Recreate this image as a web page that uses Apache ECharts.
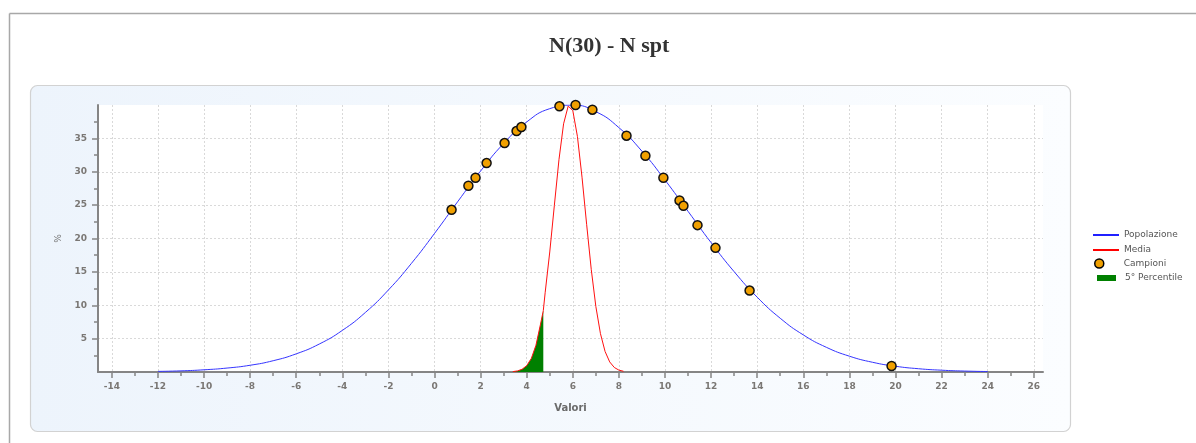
<!DOCTYPE html>
<html><head><meta charset="utf-8">
<script src="https://cdn.jsdelivr.net/npm/echarts@6/dist/echarts.min.js"></script>
<style>html,body{margin:0;padding:0;background:#fff}#c{width:1196px;height:443px}</style>
</head><body><div id="c"></div>
<script>
// ---- data ----
const xTickValues = [-14,-12,-10,-8,-6,-4,-2,0,2,4,6,8,10,12,14,16,18,20,22,24,26];
const xMinorTicks = [-13,-11,-9,-7,-5,-3,-1,1,3,5,7,9,11,13,15,17,19,21,23,25];
const yTickValues = [5,10,15,20,25,30,35];
const yMinorTicks = [2.5,7.5,12.5,17.5,22.5,27.5,32.5,37.5];

const popX = [-12,-11,-10,-9,-8,-7,-6,-5,-4,-3,-2,-1,0,1,2,3,4,5,6,7,8,9,10,11,12,13,14,15,16,17,18,19,20,21,22,23,24];
const popY = [0.09,0.17,0.33,0.59,1.01,1.69,2.72,4.19,6.23,8.92,12.29,16.28,20.76,25.49,30.11,34.24,37.46,39.45,39.98,39.0,36.61,33.08,28.76,24.07,19.38,15.03,11.21,8.05,5.56,3.70,2.37,1.46,0.86,0.49,0.27,0.14,0.07];

const mediaX = [3.4,3.6,3.8,4.0,4.2,4.4,4.6,4.72,4.8,5.0,5.2,5.4,5.6,5.8,6.0,6.2,6.4,6.6,6.8,7.0,7.2,7.4,7.6,7.8,8.0,8.2];
const mediaY = [0.06,0.16,0.41,0.95,2.03,3.99,7.18,9.2,11.87,17.98,24.98,31.82,37.18,39.84,39.16,35.30,29.18,22.13,15.38,9.81,5.74,3.08,1.51,0.68,0.28,0.11];

const pctX = [3.4,3.6,3.8,4.0,4.2,4.4,4.6,4.72];
const pctY = [0.06,0.16,0.41,0.95,2.03,3.99,7.18,9.2];

const campX = [0.74,1.47,1.78,2.26,3.04,3.56,3.77,5.42,6.12,6.85,8.33,9.15,9.93,10.63,10.8,11.41,12.19,13.67,19.83];
const campY = [24.3,27.9,29.1,31.3,34.3,36.1,36.7,39.8,40.0,39.3,35.4,32.4,29.1,25.7,24.9,22.0,18.6,12.2,0.9];

const pairs = (xs, ys) => xs.map((x, i) => [x, ys[i]]);

const labelFont = {fontFamily: 'DejaVu Sans', fontSize: 9, fontWeight: 'bold', color: '#7a7774'};
const legendText = {fontFamily: 'DejaVu Sans', fontSize: 9, color: '#555', lineHeight: 12};

const chart = echarts.init(document.getElementById('c'), null, {renderer: 'canvas'});
chart.setOption({
  animation: false,
  backgroundColor: '#fff',
  title: {
    text: 'N(30) - N spt', left: 549, top: 35, padding: 0,
    textStyle: {fontFamily: 'Liberation Serif', fontSize: 22, fontWeight: 'bold', color: '#333'}
  },
  graphic: {elements: [
    {type: 'line', z: -100, shape: {x1: 9.5, y1: 13.5, x2: 1196, y2: 13.5}, style: {stroke: '#a8a8a8', lineWidth: 1.5}},
    {type: 'line', z: -100, shape: {x1: 9.5, y1: 13.5, x2: 9.5, y2: 443}, style: {stroke: '#a8a8a8', lineWidth: 1.5}},
    {type: 'rect', z: -99, shape: {x: 30.5, y: 85.5, width: 1040, height: 346, r: 7},
      style: {stroke: '#d2d2d2', lineWidth: 1.2,
        fill: new echarts.graphic.LinearGradient(0, 0, 1, 0, [{offset: 0, color: '#edf4fc'}, {offset: 1, color: '#fbfdff'}])}}
  ]},
  legend: [
    {data: [{name: 'Popolazione', icon: 'rect'}], left: 1093, top: 229, padding: 0, itemWidth: 26, itemHeight: 2, textStyle: legendText, selectedMode: false},
    {data: [{name: 'Media', icon: 'rect'}], left: 1093, top: 244, padding: 0, itemWidth: 26, itemHeight: 2, textStyle: legendText, selectedMode: false},
    {data: [{name: 'Campioni', icon: 'circle'}], left: 1094, top: 257.5, padding: 0, itemWidth: 9, itemHeight: 9,
      itemStyle: {color: '#f0a000', borderColor: '#000', borderWidth: 1.5},
      textStyle: Object.assign({}, legendText, {padding: [0, 0, 0, 15]}), selectedMode: false},
    {data: [{name: '5° Percentile', icon: 'rect'}], left: 1097, top: 272, padding: 0, itemWidth: 19, itemHeight: 6,
      textStyle: Object.assign({}, legendText, {padding: [0, 0, 0, 4]}), selectedMode: false}
  ],
  grid: {left: 98, top: 105, right: 153, bottom: 71, show: true, backgroundColor: '#fff', borderWidth: 0},
  xAxis: [
    {type: 'value', min: -14.6, max: 26.4, position: 'bottom',
      name: 'Valori', nameLocation: 'middle', nameGap: 31,
      nameTextStyle: {fontFamily: 'DejaVu Sans', fontSize: 10, fontWeight: 'bold', color: '#6a6a6a'},
      axisLine: {show: true, onZero: false, lineStyle: {color: '#858585', width: 2}},
      axisTick: {show: true, customValues: xTickValues, length: 6, lineStyle: {color: '#858585', width: 1.5}},
      axisLabel: {customValues: xTickValues, margin: 10, ...labelFont},
      splitLine: {show: true, lineStyle: {color: '#d9d9d9', type: [2, 2], width: 1}}
    },
    {type: 'value', min: -14.6, max: 26.4, position: 'bottom',
      axisLine: {show: false, onZero: false}, axisLabel: {show: false}, splitLine: {show: false},
      axisTick: {show: true, customValues: xMinorTicks, length: 4, lineStyle: {color: '#858585', width: 1.5}}
    }
  ],
  yAxis: [
    {type: 'value', min: 0, max: 40, position: 'left',
      name: '%', nameLocation: 'middle', nameGap: 27, nameRotate: 90,
      nameTextStyle: {fontFamily: 'DejaVu Sans', fontSize: 9, color: '#777'},
      axisLine: {show: true, onZero: false, lineStyle: {color: '#858585', width: 2}},
      axisTick: {show: true, customValues: yTickValues, length: 6, lineStyle: {color: '#858585', width: 1.5}},
      axisLabel: {customValues: yTickValues, margin: 11, ...labelFont},
      splitLine: {show: true, lineStyle: {color: '#d9d9d9', type: [2, 2], width: 1}}
    },
    {type: 'value', min: 0, max: 40, position: 'left',
      axisLine: {show: false, onZero: false}, axisLabel: {show: false}, splitLine: {show: false},
      axisTick: {show: true, customValues: yMinorTicks, length: 4, lineStyle: {color: '#858585', width: 1.5}}
    }
  ],
  series: [
    {name: 'Popolazione', type: 'line', data: pairs(popX, popY), smooth: true, symbol: 'none', z: 3,
      itemStyle: {color: '#2020ff'}, lineStyle: {color: '#3535ff', width: 1}},
    {name: '5° Percentile', type: 'line', data: pairs(pctX, pctY), smooth: false, symbol: 'none', z: 2,
      itemStyle: {color: '#008000'}, lineStyle: {width: 0}, areaStyle: {color: '#008000', opacity: 1}},
    {name: 'Media', type: 'line', data: pairs(mediaX, mediaY), smooth: false, symbol: 'none', z: 4,
      itemStyle: {color: '#ff0000'}, lineStyle: {color: '#ff1010', width: 1}},
    {name: 'Campioni', type: 'scatter', data: pairs(campX, campY), symbol: 'circle', symbolSize: 9, z: 6, clip: false,
      itemStyle: {color: '#f0a000', borderColor: '#111', borderWidth: 1.5, opacity: 1}}
  ]
});
</script></body></html>
